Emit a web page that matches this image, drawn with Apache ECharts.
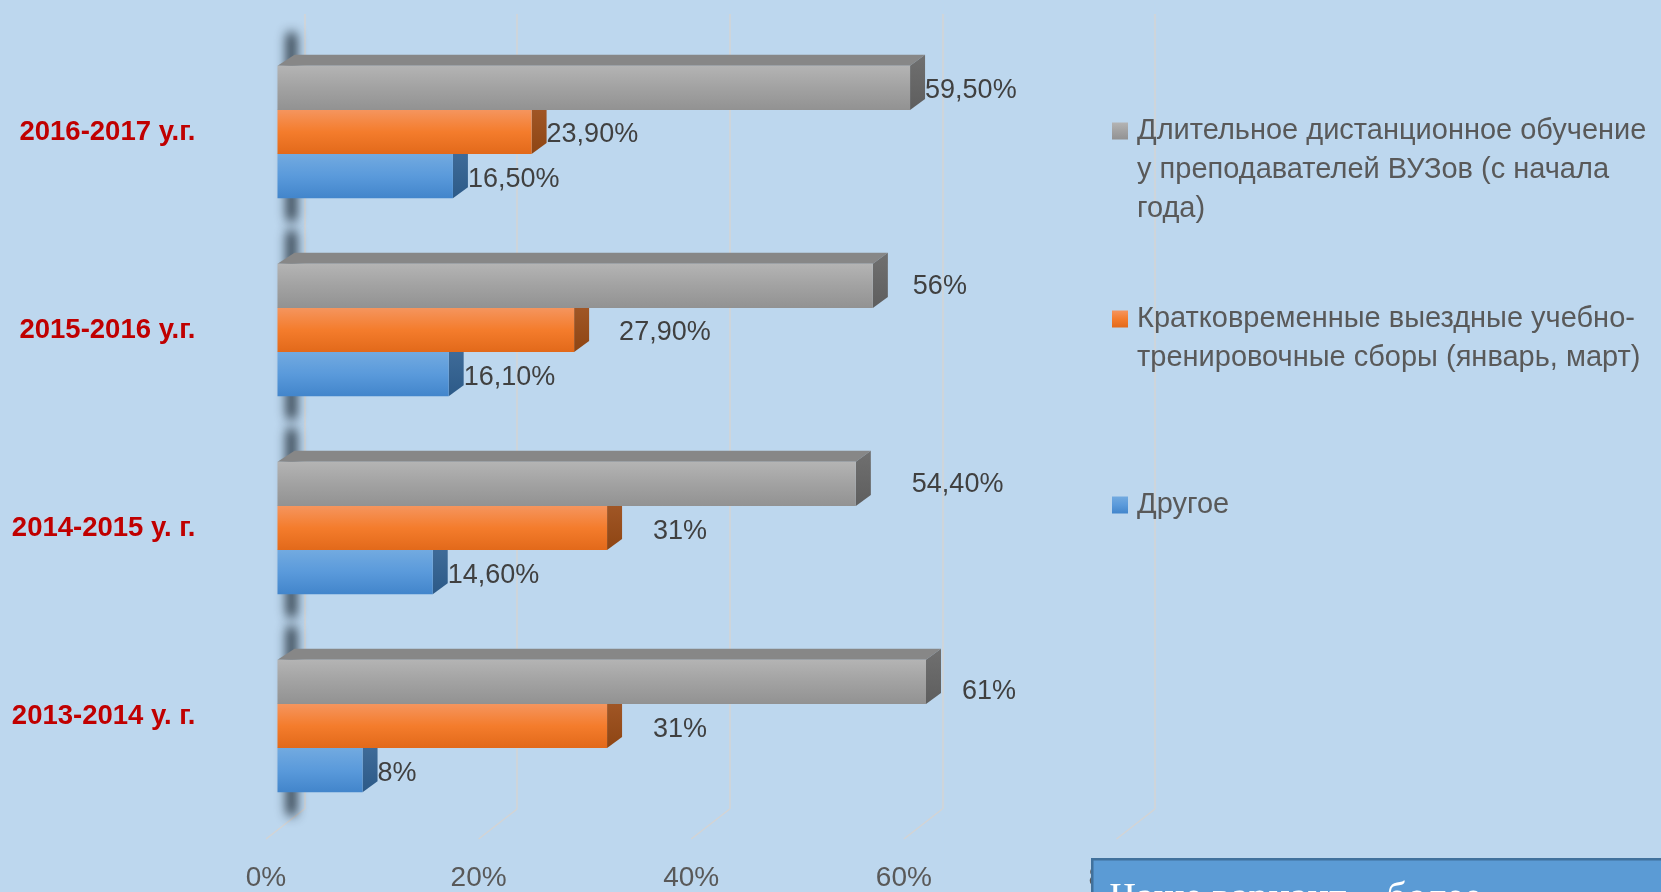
<!DOCTYPE html>
<html>
<head>
<meta charset="utf-8">
<script src="https://cdn.jsdelivr.net/npm/echarts@6/dist/echarts.min.js"></script>
<style>
  html, body { margin: 0; padding: 0; background: #BDD7EE; }
  #chart { width: 1661px; height: 892px; }
</style>
</head>
<body>
<div id="chart"></div>
<script>
// ---------------- data ----------------
const CATEGORIES = ['2013-2014 у. г.', '2014-2015 у. г.', '2015-2016 у.г.', '2016-2017 у.г.'];
const SERIES_NAMES = [
  'Длительное дистанционное обучение у преподавателей ВУЗов (с начала года)',
  'Кратковременные выездные учебно-тренировочные сборы (январь, март)',
  'Другое'
];
const LONG_DISTANCE = [61, 54.4, 56, 59.5];
const SHORT_CAMPS = [31, 31, 27.9, 23.9];
const OTHER = [8, 14.6, 16.1, 16.5];
const X_TICKS = [0, 20, 40, 60, 80];
const BOX_TEXT = 'Чаще вариант – более';

// ---------------- style config ----------------
const FONT = "'Liberation Sans', Arial, sans-serif";
const DEPTH = { dx: 15, dy: -11 };
const GAP = 0.33;
// legend text wrapped as in the original; leading blank lines keep the marker on the first line
const LEGEND_WRAP = {
  [SERIES_NAMES[0]]: '\n\nДлительное дистанционное обучение\nу преподавателей ВУЗов (с начала\nгода)',
  [SERIES_NAMES[1]]: '\nКратковременные выездные учебно-\nтренировочные сборы (январь, март)'
};
// label nudges: series -> category index -> [extra distance, vertical offset]
const LABEL_BASE_DY = 3;
const LABEL_NUDGE = [
  { 0: [21, 7], 1: [41, -2], 2: [25, -2] },
  { 0: [31, 1], 1: [31, 1], 2: [30, 0] },
  {}
];
// category labels drawn slightly above their band centre
const CAT_LABEL_RAISED = { 0: true };
const STYLES = [
  { front: ['#B4B4B4', '#A2A2A2', '#929292'], side: ['#707070', '#5E5E5E'], top: '#878787' },
  { front: ['#F5955E', '#F47C2C', '#E2691A'], side: ['#A45A2A', '#8E4513'], top: '#B85A1E' },
  { front: ['#72AAE0', '#5A9ADB', '#4285CB'], side: ['#436F9C', '#2C5A88'], top: '#3E6E9E' }
];

function fmtPct(v) {
  return Number.isInteger(v) ? v + '%' : v.toFixed(2).replace('.', ',') + '%';
}
function vGrad(stops) {
  return new echarts.graphic.LinearGradient(0, 0, 0, 1,
    stops.map((c, i) => ({ offset: i / (stops.length - 1), color: c })));
}

const VALUES = [LONG_DISTANCE, SHORT_CAMPS, OTHER];
const chart = echarts.init(document.getElementById('chart'), null, { renderer: 'canvas' });

// bar front faces
const barSeries = VALUES.map((vals, k) => ({
  name: SERIES_NAMES[k],
  type: 'bar',
  xAxisIndex: 0, yAxisIndex: 0,
  z: 3,
  barGap: '0%',
  barCategoryGap: (GAP * 100) + '%',
  itemStyle: { color: vGrad(STYLES[k].front) },
  label: {
    show: true, position: 'right', distance: 15, offset: [0, LABEL_BASE_DY],
    color: '#404040', fontSize: 27, fontFamily: FONT,
    formatter: p => fmtPct(p.value)
  },
  data: vals.map((v, i) => {
    const n = LABEL_NUDGE[k][i];
    return n ? { value: v, label: { distance: 15 + n[0], offset: [0, LABEL_BASE_DY + n[1]] } } : v;
  })
}));

// 3D side / top faces
const faceData = [];
VALUES.forEach((vals, k) => vals.forEach((v, i) => faceData.push([i, v, k])));
const facesSeries = {
  type: 'custom', name: 'faces', xAxisIndex: 0, yAxisIndex: 0, z: 2, silent: true,
  encode: { x: 1, y: 0 },
  data: faceData,
  renderItem: (params, api) => {
    const cat = api.value(0), v = api.value(1), k = api.value(2);
    const end = api.coord([v, cat]);
    const start = api.coord([0, cat]);
    const band = api.size([0, 1])[1];
    const bw = band * (1 - GAP) / 3;
    const yTop = end[1] - 1.5 * bw + k * bw;
    const yBot = yTop + bw;
    const { dx, dy } = DEPTH;
    const st = STYLES[k];
    return {
      type: 'group',
      children: [
        { type: 'polygon', shape: { points: [[start[0], yTop], [start[0] + dx + 2, yTop + dy], [end[0] + dx, yTop + dy], [end[0], yTop]] },
          style: { fill: st.top } },
        { type: 'polygon', shape: { points: [[end[0], yTop], [end[0] + dx, yTop + dy], [end[0] + dx, yBot + dy], [end[0], yBot]] },
          style: { fill: vGrad(st.side) } }
      ]
    };
  }
};

// blurred wall shadows behind each group (only the blurred shadow is visible)
const SHADOW_SHIFT = 3000;
const shadowSeries = {
  type: 'custom', name: 'shadow', xAxisIndex: 0, yAxisIndex: 0, z: 1, silent: true,
  clip: false,
  encode: { x: 1, y: 0 },
  data: CATEGORIES.map((c, i) => [i, 0]),
  renderItem: (params, api) => {
    const c = api.coord([0, api.value(0)]);
    const band = api.size([0, 1])[1];
    const half = band * (1 - GAP) / 2;
    return {
      type: 'group',
      children: [
        { type: 'rect',
          shape: { x: c[0] + 9 - SHADOW_SHIFT, y: c[1] - half - 34, width: 10, height: 2 * half + 58, r: 5 },
          style: { fill: '#1c2a38', shadowBlur: 11, shadowColor: 'rgba(22,34,46,0.9)', shadowOffsetX: SHADOW_SHIFT, shadowOffsetY: 0 } }
      ]
    };
  }
};

// floor diagonals at the back-wall gridlines
const floorSeries = {
  type: 'custom', name: 'floor', xAxisIndex: 1, yAxisIndex: 1, z: 0, silent: true,
  clip: false,
  encode: { x: 0, y: 1 },
  data: X_TICKS.map(t => [t, 0]),
  renderItem: (params, api) => {
    const p = api.coord([api.value(0), 0]);
    return {
      type: 'line',
      shape: { x1: p[0], y1: p[1], x2: p[0] - 38.5, y2: p[1] + 30 },
      style: { stroke: '#D4D4D4', lineWidth: 1.5 }
    };
  }
};

function makeLegend(k, top) {
  return {
    data: [SERIES_NAMES[k]],
    left: 1112, top: top, orient: 'vertical', padding: 0,
    icon: 'rect', itemWidth: 16, itemHeight: 17,
    selectedMode: false,
    formatter: n => LEGEND_WRAP[n] || n,
    textStyle: {
      fontFamily: FONT, fontSize: 29, color: '#595959', lineHeight: 39,
      padding: [0, 0, 0, 4], backgroundColor: 'rgba(0,0,0,0)'
    }
  };
}

const option = {
  backgroundColor: '#BDD7EE',
  animation: false,
  textStyle: { fontFamily: FONT },
  grid: [
    { left: 277.5, top: 33, width: 850.5, height: 796.5 },
    { left: 304.5, top: 14, width: 850.5, height: 795 }
  ],
  xAxis: [
    {
      gridIndex: 0, type: 'value', min: 0, max: 80, interval: 20,
      axisLine: { show: false }, axisTick: { show: false }, splitLine: { show: false },
      axisLabel: {
        formatter: '{value}%', fontSize: 28, color: '#595959', fontFamily: FONT,
        margin: 39, padding: [0, 23, 0, 0]
      }
    },
    {
      gridIndex: 1, type: 'value', min: 0, max: 80, interval: 20,
      axisLine: { show: false }, axisTick: { show: false }, axisLabel: { show: false },
      splitLine: { show: true, lineStyle: { color: '#D4D4D4', width: 1.5 } }
    }
  ],
  yAxis: [
    {
      gridIndex: 0, type: 'category',
      data: CATEGORIES.map((c, i) => CAT_LABEL_RAISED[i]
        ? { value: c, textStyle: { verticalAlign: 'bottom', lineHeight: 20 } }
        : c),
      axisLine: { show: false }, axisTick: { show: false }, splitLine: { show: false },
      axisLabel: { margin: 82, fontSize: 27.5, fontWeight: 'bold', color: '#C00000', fontFamily: FONT }
    },
    { gridIndex: 1, type: 'value', min: 0, max: 1, show: false }
  ],
  legend: [
    makeLegend(0, 33.5),
    makeLegend(1, 260.5),
    makeLegend(2, 485.5)
  ],
  series: [floorSeries, shadowSeries, facesSeries].concat(barSeries),
  graphic: [
    { type: 'rect', z: 100, left: 1091, top: 858, shape: { width: 600, height: 80 },
      style: { fill: '#5B9BD5', stroke: '#41719C', lineWidth: 2.5 } },
    { type: 'text', z: 101, left: 1110, top: 879,
      style: { text: BOX_TEXT, fill: '#FFFFFF', fontSize: 40, fontFamily: "'Liberation Serif', 'Times New Roman', serif" } }
  ]
};
chart.setOption(option);
</script>
</body>
</html>
